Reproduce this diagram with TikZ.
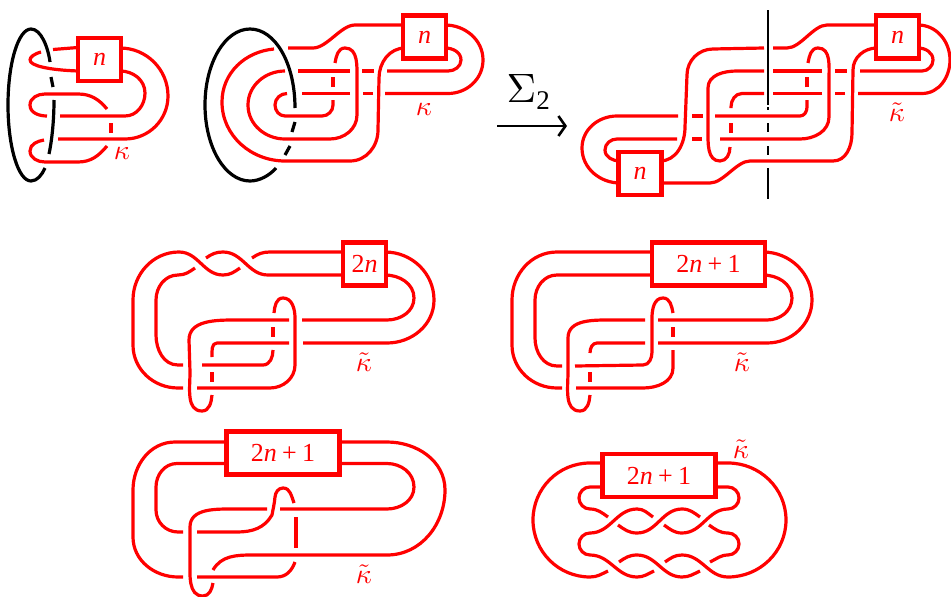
\documentclass[tikz,border=0pt]{standalone}
\usepackage{fontspec}
\setmainfont{Liberation Serif}
\usetikzlibrary{arrows.meta}
\tikzset{
  x=1pt,y=-1pt,
  knot/.style={draw=red,line width=3.2pt,line cap=butt,line join=round},
  blk/.style={draw=black,line width=3.2pt,line cap=butt},
  axis/.style={draw=black,line width=2.2pt,line cap=butt},
  boxn/.style={draw=red,fill=white,line width=4.7pt,inner sep=0pt,text=red,font=\fontsize{26}{26}\selectfont,minimum width=#1,minimum height=43pt},
  boxn/.default=43pt,
  kap/.style={text=red,inner sep=0pt,scale=2.8}
}
\newcommand{\twonpo}{2\textit{n}\hspace{.2em}+\hspace{.2em}1}
\begin{document}
\begin{tikzpicture}
\useasboundingbox (0,0) rectangle (951,597);
% ---------- Panel A ----------
\draw[blk] (50,62) .. controls (48,47) and (41,29) .. (31,29) .. controls (18.3,29) and (8,63) .. (8,105) .. controls (8,147) and (18.3,181) .. (31,181) .. controls (37,181) and (42,175) .. (45,168);
\draw[blk] (51,77) -- (53,87);
\draw[blk] (54,100) .. controls (54,120) and (52,140) .. (49,154);
\draw[knot] (53,49.5) -- (78,47.5);
\draw[knot] (41,52) .. controls (34,54) and (30,57) .. (30,60) .. controls (30,66) and (50,70) .. (78,71);
\draw[knot] (120,48) to[out=0,in=90] (168,96) to[out=270,in=0] (125,139) -- (58,139);
\draw[knot] (120,71) to[out=0,in=90] (145,93) to[out=270,in=0] (125,116) -- (60,116);
\draw[knot] (47,116) to[out=180,in=270] (30,105) to[out=90,in=180] (45,94) -- (78,94) to[out=0,in=130] (107,109);
\draw[knot] (111,123) -- (111,133);
\draw[knot] (107,146) to[out=230,in=0] (78,162) -- (45,162) to[out=180,in=270] (30,151) to[out=90,in=190] (44,140);
\node[boxn] (a1) at (99.5,59.5) {\itshape n};
\node[kap] (ka) at (122,153) {$\kappa$};
% ---------- Panel B ----------
\draw[blk] (295,108) .. controls (295,63) and (275,29) .. (250,29) .. controls (225,29) and (205,63) .. (205,105) .. controls (205,147) and (225,181) .. (250,181) .. controls (260,181) and (270,175) .. (276,168);
\draw[blk] (295,122) -- (292,132);
\draw[blk] (290,146) -- (285,155);
\draw[knot] (405,25) -- (355,25) to[out=180,in=0,looseness=0.75] (313,48) -- (288,48);
\draw[knot] (274,49) to[out=185,in=90] (222,102) to[out=270,in=180] (285,161) -- (350,161) to[out=0,in=270] (378,130) -- (379,78) to[out=90,in=180] (405,48);
\draw[knot] (445,25) to[out=0,in=90] (483,60) to[out=270,in=0] (448,93.5) -- (385,93.5);
\draw[knot] (373,93.5) -- (363,93.5);
\draw[knot] (350,93.5) -- (302,93.5);
\draw[knot] (287,93.5) to[out=180,in=90] (275,105) to[out=270,in=180] (285,116) -- (322,116) to[out=0,in=270] (333,105) -- (333,100);
\draw[knot] (333,87) -- (333,77);
\draw[knot] (335,63) to[out=80,in=180] (345,48) to[out=0,in=90] (357,80) -- (357,115) to[out=270,in=0] (330,139) -- (285,139) to[out=180,in=270] (248,105) to[out=90,in=180] (285,71);
\draw[knot] (298,71) -- (350,71);
\draw[knot] (362,71) -- (374,71);
\draw[knot] (387,71) -- (448,71) to[out=0,in=270] (461,60) to[out=90,in=0] (445,48);
\node[boxn] (b1) at (424.5,37) {\itshape n};
\node[kap] (kb) at (424,109) {$\kappa$};
% ---------- Arrow ----------
\coordinate (arS) at (497,126);
\coordinate (arE) at (567,126);
\draw[draw=black,line width=2.6pt,-{Straight Barb[length=7pt,width=20pt,line width=2.6pt]}] (arS) -- (arE);
\node[inner sep=0pt,scale=4.1] (sg) at (521.5,88.5) {$\Sigma$};
\node[inner sep=0pt,font=\fontsize{27}{27}\selectfont] (sb) at (543,100.5) {2};
% ---------- Panel C ----------
\draw[axis] (768,10) -- (768,105);
\draw[axis] (768,107) -- (768,110);
\draw[axis] (768,123) -- (768,132);
\draw[axis] (768,146) -- (768,155);
\draw[axis] (768,168) -- (768,199);
\draw[knot] (877,25) -- (827,25) to[out=180,in=0,looseness=0.75] (787,48) -- (773,48);
\draw[knot] (764,48) -- (713,49) to[out=180,in=90] (687,75) -- (685,127) to[out=270,in=0] (660,161);
\draw[knot] (918,25) to[out=0,in=90] (950,60) to[out=270,in=0] (922,93.5) -- (858,93.5);
\draw[knot] (845,93.5) -- (835,93.5);
\draw[knot] (822,93.5) -- (773,93.5);
\draw[knot] (764,93.5) -- (742,93.5) to[out=180,in=90] (731,107) -- (731,108);
\draw[knot] (731,123) -- (731,133);
\draw[knot] (730,147) to[out=270,in=0] (720,161) to[out=180,in=270] (708,130) -- (708,88) to[out=90,in=180] (737,71) -- (764,71);
\draw[knot] (773,71) -- (822,71);
\draw[knot] (835,71) -- (847,71);
\draw[knot] (860,71) -- (922,71) to[out=0,in=270] (933,60) to[out=90,in=0] (918,48);
\draw[knot] (877,48) to[out=180,in=90] (853,70) -- (852,133) to[out=270,in=0] (833,161) -- (750,161) to[out=180,in=0,looseness=0.75] (710,183) -- (660,183);
\draw[knot] (678,116) -- (617,116) to[out=180,in=90] (582,148) to[out=270,in=180] (620,183);
\draw[knot] (692,116) -- (703,116);
\draw[knot] (715,116) -- (800,116) to[out=0,in=270] (807,107) -- (807,100);
\draw[knot] (807,87) -- (807,77);
\draw[knot] (808,63) to[out=80,in=180] (818,48) to[out=0,in=90] (829,80) -- (829,117) to[out=270,in=0] (800,139) -- (720,139);
\draw[knot] (692,139) -- (702,139);
\draw[knot] (677,139) -- (617,139) to[out=180,in=90] (605,150) to[out=270,in=180] (620,161);
\node[boxn] (c1) at (897.5,37) {\itshape n};
\node[boxn] (c2) at (640,173.5) {\itshape n};
\node[kap] (kc) at (897,112) {$\tilde\kappa$};
% ---------- Panel D ----------
\draw[knot] (345,252) -- (270,252) to[out=180,in=35] (252,258);
\draw[knot] (345,275) -- (268,275) to[out=180,in=0] (223,252) to[out=180,in=35] (206,258);
\draw[knot] (240,268) to[out=215,in=0] (223,275) to[out=180,in=0] (179,252);
\draw[knot] (195,268) to[out=215,in=0] (178,275) to[out=180,in=90] (156,300) -- (156,335) to[out=270,in=180] (178,365) -- (183,365);
\draw[knot] (179,252) to[out=180,in=90] (133,300) -- (133,345) to[out=270,in=180] (178,388) -- (183,388);
\draw[knot] (197,388) -- (270,388) to[out=0,in=270] (295,365) -- (295,318) to[out=90,in=0] (283,298) to[out=180,in=85] (274,313);
\draw[knot] (273,327) -- (273,337);
\draw[knot] (273,350) to[out=270,in=0] (263,365) -- (202,365);
\draw[knot] (385,252) to[out=0,in=90] (434,300) to[out=270,in=0] (387,343) -- (303,343);
\draw[knot] (289,343) -- (217,343) to[out=180,in=90] (212,357);
\draw[knot] (212,372) -- (212,382);
\draw[knot] (212,395) to[out=265,in=0] (202,411) to[out=180,in=270] (190,372) -- (189,340) to[out=90,in=180] (235,320) -- (289,320);
\draw[knot] (302,320) -- (387,320) to[out=0,in=270] (414,298) to[out=90,in=0] (385,275);
\node[boxn] (d1) at (364.5,264) {2\textit{n}};
\node[kap] (kd) at (364,362) {$\tilde\kappa$};
% ---------- Panel E ----------
\draw[knot] (654,252) -- (557,252) to[out=180,in=90] (512,300) -- (512,345) to[out=270,in=180] (557,388) -- (562,388);
\draw[knot] (654,275) -- (557,275) to[out=180,in=90] (535,300) -- (535,338) to[out=270,in=180] (557,366) -- (562,366);
\draw[knot] (575,366) -- (643,365) to[out=0,in=270] (652,352) -- (652,318) to[out=90,in=180] (663,298) to[out=0,in=100] (673,313);
\draw[knot] (673,327) -- (673,337);
\draw[knot] (673,350) -- (673,368) to[out=270,in=0] (643,388) -- (576,388);
\draw[knot] (763,252) to[out=0,in=90] (812,300) to[out=270,in=0] (767,343) -- (658,343);
\draw[knot] (645,343) -- (597,343) to[out=180,in=90] (590,353);
\draw[knot] (590,372) -- (590,382);
\draw[knot] (590,395) to[out=265,in=0] (580,411) to[out=180,in=270] (568,372) -- (568,338) to[out=90,in=180] (613,320) -- (645,320);
\draw[knot] (658,320) -- (767,320) to[out=0,in=270] (792,298) to[out=90,in=0] (763,275);
\node[boxn=113pt] (e1) at (708.5,264) {\twonpo};
\node[kap] (ke) at (742,362) {$\tilde\kappa$};
% ---------- Panel F ----------
\draw[knot] (230,442) -- (175,442) to[out=180,in=90] (133,490) -- (133,537) to[out=270,in=180] (178,577) -- (183,577);
\draw[knot] (230,463.5) -- (177,463.5) to[out=180,in=90] (156,487) -- (156,510) to[out=270,in=180] (178,532) -- (183,532);
\draw[knot] (197,532) -- (237,532) to[out=0,in=240] (272,515) to[out=80,in=265] (275,497) to[out=85,in=180] (283,488) to[out=0,in=110] (294,503);
\draw[knot] (296,517) -- (296,548);
\draw[knot] (295,562) to[out=250,in=0] (277,577) -- (197,577);
\draw[knot] (337,442) -- (387,442) to[out=0,in=90] (445,490) to[out=270,in=0] (387,555) -- (253,555) to[out=180,in=60] (213,570);
\draw[knot] (213,583) to[out=260,in=0] (203,596) to[out=180,in=270] (190,560) -- (190,527) to[out=90,in=180] (235,509) -- (267,509);
\draw[knot] (280,509) -- (387,509) to[out=0,in=270] (414,487) to[out=90,in=0] (387,463.5) -- (337,463.5);
\node[boxn=113pt] (f1) at (283,453) {\twonpo};
\node[kap] (kf) at (364,574) {$\tilde\kappa$};
% ---------- Panel G ----------
\draw[knot] (605,463) -- (590,463) to[out=180,in=90] (533,520) to[out=270,in=180] (590,577) to[out=0,in=205] (608,571);
\draw[knot] (605,487) -- (590,487) to[out=180,in=90] (579,498) to[out=270,in=180] (590,509) to[out=0,in=145] (608,517);
\draw[knot] (590,533) to[out=0,in=180] (637,509) to[out=0,in=145] (653,517);
\draw[knot] (664,525) to[out=325,in=180] (682,533) to[out=0,in=180] (728,509) to[out=0,in=270] (739,498) to[out=90,in=0] (728,487) -- (713,487);
\draw[knot] (618,525) to[out=325,in=180] (637,533) to[out=0,in=180] (682,509) to[out=0,in=145] (700,517);
\draw[knot] (709,525) to[out=325,in=180] (728,533) to[out=0,in=90] (739,544) to[out=270,in=0] (728,555) to[out=180,in=25] (710,562);
\draw[knot] (590,533) to[out=180,in=90] (579,544) to[out=270,in=180] (590,555) to[out=0,in=180] (637,577) to[out=0,in=205] (654,571);
\draw[knot] (619,562) to[out=35,in=180] (637,555) to[out=0,in=180] (682,577) to[out=0,in=205] (700,571);
\draw[knot] (665,562) to[out=35,in=180] (682,555) to[out=0,in=180] (728,577) to[out=0,in=270] (786,520) to[out=90,in=0] (728,463) -- (713,463);
\node[boxn=113pt] (g1) at (659,475.5) {\twonpo};
\node[kap] (kg) at (741,449) {$\tilde\kappa$};
\end{tikzpicture}
\end{document}
